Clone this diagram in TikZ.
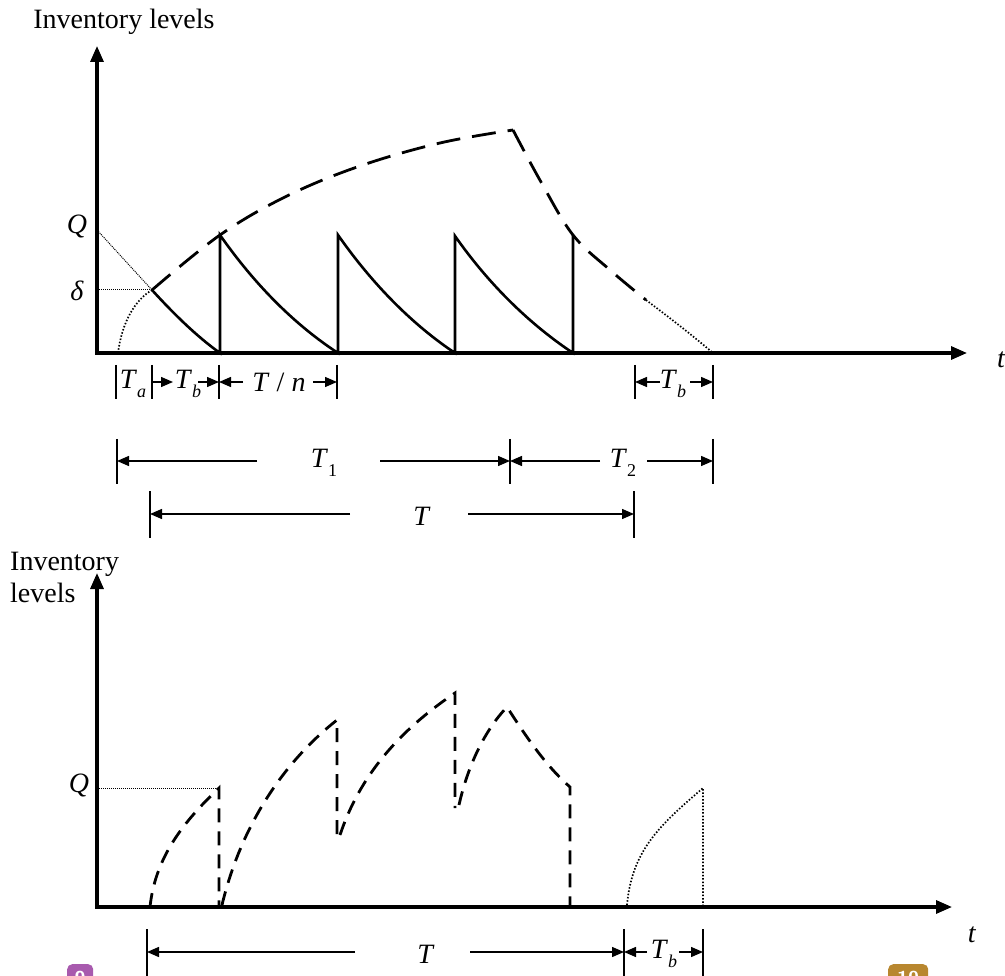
\documentclass[tikz,border=0pt]{standalone}
\usepackage{fontspec}
\setmainfont{Liberation Serif}
\usetikzlibrary{arrows.meta}
\newcommand{\lblsub}[2]{\textit{#1}\raisebox{-0.3em}{\fontsize{18}{18}\selectfont\textit{#2}}}
\newcommand{\lblsubup}[2]{\textit{#1}\raisebox{-0.3em}{\fontsize{18}{18}\selectfont #2}}
\definecolor{badgepurple}{HTML}{A85AAE}
\definecolor{badgegold}{HTML}{B8872F}
\begin{document}
\begin{tikzpicture}[x=1pt,y=-1pt,
  lbl/.style={font=\fontsize{28}{32}\selectfont, inner sep=0pt},
  axis/.style={line width=3.2pt, line join=miter, {Triangle[length=16pt,width=13pt]}-{Triangle[length=16pt,width=13pt]}},
  curve/.style={line width=2.6pt},
  dashbig/.style={line width=2.8pt, dash pattern=on 24pt off 12pt},
  dashsmall/.style={line width=2.8pt, dash pattern=on 14pt off 9pt},
  dotcurve/.style={line width=1.7pt, dash pattern=on 1.5pt off 1.8pt},
  thindot/.style={line width=1pt, dash pattern=on 1pt off 1pt},
  dim/.style={line width=1.4pt},
  dimarrow/.style={line width=1.4pt, -{Triangle[length=12pt,width=10pt]}},
  badge/.style={rounded corners=5pt, inner sep=0pt, text=white, font=\sffamily\bfseries\fontsize{20}{20}\selectfont},
]
\useasboundingbox (0,0) rectangle (1005,976);

% ================= TOP CHART =================
\node[lbl] (ylab1) at (124,22) {Inventory levels};
\coordinate (Y1) at (97,46);
\coordinate (O1) at (97,353);
\coordinate (X1) at (967,353);
\draw[axis] (Y1) -- (O1) -- (X1);
\node[lbl, anchor=west] (t1) at (997,360) {\textit{t}};

\node[lbl] (Q1) at (77,227) {\textit{Q}};
\node[lbl] (d1) at (77,291) {\textit{δ}};
\coordinate (Qa) at (97,230);
\coordinate (Da) at (97,290);
\coordinate (P0) at (152,290);
\draw[thindot] (Qa) -- (P0);
\draw[thindot] (Da) -- (P0);
\coordinate (S0) at (118,353);
\draw[dotcurve] (S0) .. controls (122,322) and (135,300) .. (P0);

% sawtooth
\coordinate (B1) at (220,353);
\coordinate (B2) at (338,353);
\coordinate (B3) at (455,353);
\coordinate (B4) at (573,353);
\coordinate (U1) at (220,235);
\coordinate (U2) at (338,235);
\coordinate (U3) at (455,236);
\coordinate (U4) at (573,235);
\draw[curve] (P0) .. controls (172,312) and (196,336) .. (B1) -- (U1)
  .. controls (255,285) and (295,325) .. (B2) -- (U2)
  .. controls (373,285) and (413,325) .. (B3) -- (U3)
  .. controls (490,286) and (531,325) .. (B4) -- (U4);

% envelope
\coordinate (Pk) at (513,130);
\draw[dashbig] plot[smooth, tension=0.6] coordinates {(152,290) (220,235) (287,196) (360,166) (440,143) (513,130)};
\draw[dashbig] plot[smooth, tension=0.6] coordinates {(513,130) (541,182) (573,235) (610,270) (646,300)};
\coordinate (E1) at (646,300);
\coordinate (E2) at (713,353);
\draw[dotcurve] (E1) .. controls (670,318) and (692,335) .. (E2);

% dimension row 1
\foreach \n/\x in {a/116,b/152,c/219,d/337,e/635,f/713}{
  \coordinate (r1\n t) at (\x,365);
  \coordinate (r1\n b) at (\x,399);
  \draw[dim] (r1\n t) -- (r1\n b);
}
\node[lbl] (Ta) at (133,384) {\lblsub{T}{a}};
\coordinate (r1x1) at (173,382);
\draw[dimarrow] (152,382) -- (r1x1);
\node[lbl] (Tb1) at (188,384) {\lblsub{T}{b}};
\draw[dimarrow] (198,382) -- (219,382);
\draw[dimarrow] (243,382) -- (219,382);
\node[lbl] (Tn) at (279,382) {\textit{T} / \textit{n}};
\draw[dimarrow] (313,382) -- (337,382);
\draw[dimarrow] (660,382) -- (635,382);
\node[lbl] (Tb2) at (673,384) {\lblsub{T}{b}};
\draw[dimarrow] (690,382) -- (713,382);

% dimension row 2
\foreach \n/\x in {a/117,b/510,c/713}{
  \coordinate (r2\n t) at (\x,439);
  \coordinate (r2\n b) at (\x,484);
  \draw[dim] (r2\n t) -- (r2\n b);
}
\node[lbl] (T1) at (324,463) {\lblsubup{T}{1}};
\draw[dimarrow] (257,461) -- (117,461);
\draw[dimarrow] (380,461) -- (510,461);
\draw[dimarrow] (600,461) -- (510,461);
\node[lbl] (T2) at (623,463) {\lblsubup{T}{2}};
\draw[dimarrow] (647,461) -- (713,461);

% dimension row 3
\foreach \n/\x in {a/150,b/634}{
  \coordinate (r3\n t) at (\x,491);
  \coordinate (r3\n b) at (\x,538);
  \draw[dim] (r3\n t) -- (r3\n b);
}
\draw[dimarrow] (350,514) -- (150,514);
\node[lbl] (Tr3) at (422,516) {\textit{T}};
\draw[dimarrow] (468,514) -- (634,514);

% ================= BOTTOM CHART =================
\node[lbl, align=left, anchor=north west] (ylab2) at (10,552) {Inventory\\levels};
\coordinate (Y2) at (97,573);
\coordinate (O2) at (97,907);
\coordinate (X2) at (952,907);
\draw[axis] (Y2) -- (O2) -- (X2);
\node[lbl] (t2) at (972,935) {\textit{t}};

\node[lbl] (Q2) at (79,785) {\textit{Q}};
\coordinate (Qb) at (97,788);
\coordinate (A1) at (219,788);
\draw[thindot] (Qb) -- (A1);

\draw[dashsmall] (150,907) .. controls (155,860) and (180,825) .. (A1) -- (219,907);
\draw[dashsmall] (222,905) .. controls (240,830) and (280,765) .. (337,720) -- (337,837);
\draw[dashsmall] (340,835) .. controls (360,775) and (400,730) .. (455,693) -- (455,808);
\draw[dashsmall] (459,805) .. controls (468,765) and (485,730) .. (507,707)
  .. controls (525,735) and (545,765) .. (570,787) -- (570,907);
\coordinate (D1) at (627,905);
\coordinate (D2) at (703,788);
\coordinate (D3) at (703,906);
\draw[dotcurve] (D1) .. controls (632,850) and (660,825) .. (D2) -- (D3);

% bottom dimension row
\foreach \n/\x in {a/147,b/624,c/703}{
  \coordinate (r4\n t) at (\x,929);
  \coordinate (r4\n b) at (\x,980);
  \draw[dim] (r4\n t) -- (r4\n b);
}
\draw[dimarrow] (355,952) -- (147,952);
\node[lbl] (Tr4) at (426,954) {\textit{T}};
\draw[dimarrow] (470,952) -- (624,952);
\draw[dimarrow] (647,952) -- (624,952);
\node[lbl] (Tb3) at (664,954) {\lblsub{T}{b}};
\draw[dimarrow] (679,952) -- (703,952);

% page badges (cut by the edge, as in the reference)
\node[badge, fill=badgepurple, minimum width=26pt, minimum height=28pt, anchor=north west] (bg1) at (67,964) {9};
\node[badge, fill=badgegold, minimum width=40pt, minimum height=28pt, anchor=north west] (bg2) at (888,964) {10};
\end{tikzpicture}
\end{document}
